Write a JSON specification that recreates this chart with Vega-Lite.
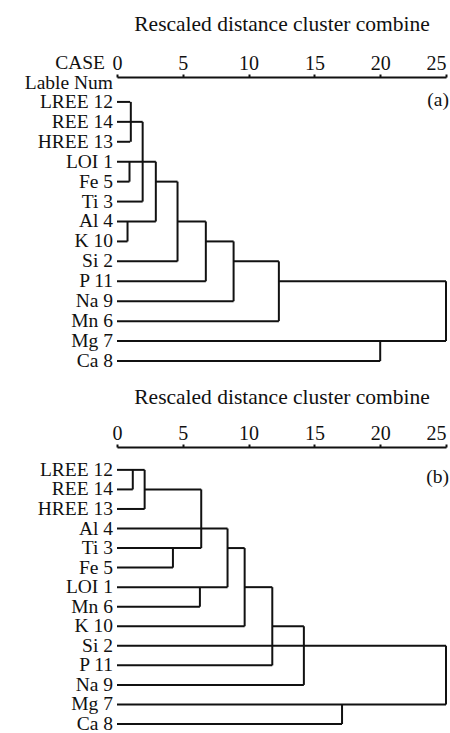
{
  "$schema": "https://vega.github.io/schema/vega-lite/v6.json",
  "background": "white",
  "padding": {"left": 24, "top": 13, "right": 0, "bottom": 0},
  "spacing": 15,
  "config": {
    "view": {"stroke": null},
    "font": "Liberation Serif",
    "text": {"font": "Liberation Serif", "fontSize": 19.5, "color": "#111"},
    "axis": {
      "grid": false,
      "domainColor": "#111",
      "domainWidth": 2,
      "tickColor": "#111",
      "tickWidth": 2,
      "tickSize": 3,
      "labelFont": "Liberation Serif",
      "labelFontSize": 20,
      "labelColor": "#111",
      "labelPadding": 1,
      "labelFlush": false,
      "labelAlign": {"condition": {"test": "datum.value === 25", "value": "right"}, "value": "center"},
      "titleFont": "Liberation Serif",
      "titleFontSize": 21.5,
      "titleFontWeight": "normal",
      "titleColor": "#111"
    }
  },
  "datasets": {
    "seg": [
      {"panel": "a", "x0": 0, "x1": 1.0, "r0": 0, "r1": 0},
      {"panel": "a", "x0": 0, "x1": 1.95, "r0": 1, "r1": 1},
      {"panel": "a", "x0": 0, "x1": 1.0, "r0": 2, "r1": 2},
      {"panel": "a", "x0": 0, "x1": 2.95, "r0": 3, "r1": 3},
      {"panel": "a", "x0": 0, "x1": 0.95, "r0": 4, "r1": 4},
      {"panel": "a", "x0": 2.95, "x1": 4.6, "r0": 4, "r1": 4},
      {"panel": "a", "x0": 0, "x1": 1.95, "r0": 5, "r1": 5},
      {"panel": "a", "x0": 0, "x1": 2.95, "r0": 6, "r1": 6},
      {"panel": "a", "x0": 0, "x1": 0.8, "r0": 7, "r1": 7},
      {"panel": "a", "x0": 0, "x1": 4.6, "r0": 8, "r1": 8},
      {"panel": "a", "x0": 4.6, "x1": 6.75, "r0": 6, "r1": 6},
      {"panel": "a", "x0": 0, "x1": 6.75, "r0": 9, "r1": 9},
      {"panel": "a", "x0": 6.75, "x1": 8.86, "r0": 7, "r1": 7},
      {"panel": "a", "x0": 0, "x1": 8.86, "r0": 10, "r1": 10},
      {"panel": "a", "x0": 8.86, "x1": 12.3, "r0": 8, "r1": 8},
      {"panel": "a", "x0": 0, "x1": 12.3, "r0": 11, "r1": 11},
      {"panel": "a", "x0": 12.3, "x1": 25, "r0": 9, "r1": 9},
      {"panel": "a", "x0": 0, "x1": 25, "r0": 12, "r1": 12},
      {"panel": "a", "x0": 0, "x1": 20, "r0": 13, "r1": 13},
      {"panel": "a", "x0": 1.05, "x1": 1.05, "r0": 0, "r1": 2},
      {"panel": "a", "x0": 0.95, "x1": 0.95, "r0": 3, "r1": 4},
      {"panel": "a", "x0": 0.8, "x1": 0.8, "r0": 6, "r1": 7},
      {"panel": "a", "x0": 1.95, "x1": 1.95, "r0": 1, "r1": 5},
      {"panel": "a", "x0": 2.95, "x1": 2.95, "r0": 3, "r1": 6},
      {"panel": "a", "x0": 4.6, "x1": 4.6, "r0": 4, "r1": 8},
      {"panel": "a", "x0": 6.75, "x1": 6.75, "r0": 6, "r1": 9},
      {"panel": "a", "x0": 8.86, "x1": 8.86, "r0": 7, "r1": 10},
      {"panel": "a", "x0": 12.3, "x1": 12.3, "r0": 8, "r1": 11},
      {"panel": "a", "x0": 25, "x1": 25, "r0": 9, "r1": 12},
      {"panel": "a", "x0": 20, "x1": 20, "r0": 12, "r1": 13},
      {"panel": "b", "x0": 0, "x1": 2.1, "r0": 0, "r1": 0},
      {"panel": "b", "x0": 0, "x1": 1.2, "r0": 1, "r1": 1},
      {"panel": "b", "x0": 0, "x1": 2.1, "r0": 2, "r1": 2},
      {"panel": "b", "x0": 2.1, "x1": 6.4, "r0": 1, "r1": 1},
      {"panel": "b", "x0": 0, "x1": 8.4, "r0": 3, "r1": 3},
      {"panel": "b", "x0": 0, "x1": 6.4, "r0": 4, "r1": 4},
      {"panel": "b", "x0": 0, "x1": 4.25, "r0": 5, "r1": 5},
      {"panel": "b", "x0": 8.4, "x1": 9.7, "r0": 4, "r1": 4},
      {"panel": "b", "x0": 0, "x1": 8.4, "r0": 6, "r1": 6},
      {"panel": "b", "x0": 0, "x1": 6.3, "r0": 7, "r1": 7},
      {"panel": "b", "x0": 0, "x1": 9.7, "r0": 8, "r1": 8},
      {"panel": "b", "x0": 9.7, "x1": 11.8, "r0": 6, "r1": 6},
      {"panel": "b", "x0": 0, "x1": 25, "r0": 9, "r1": 9},
      {"panel": "b", "x0": 0, "x1": 11.8, "r0": 10, "r1": 10},
      {"panel": "b", "x0": 11.8, "x1": 14.2, "r0": 8, "r1": 8},
      {"panel": "b", "x0": 0, "x1": 14.2, "r0": 11, "r1": 11},
      {"panel": "b", "x0": 0, "x1": 25, "r0": 12, "r1": 12},
      {"panel": "b", "x0": 0, "x1": 17.1, "r0": 13, "r1": 13},
      {"panel": "b", "x0": 1.2, "x1": 1.2, "r0": 0, "r1": 1},
      {"panel": "b", "x0": 2.1, "x1": 2.1, "r0": 0, "r1": 2},
      {"panel": "b", "x0": 6.4, "x1": 6.4, "r0": 1, "r1": 4},
      {"panel": "b", "x0": 4.25, "x1": 4.25, "r0": 4, "r1": 5},
      {"panel": "b", "x0": 6.3, "x1": 6.3, "r0": 6, "r1": 7},
      {"panel": "b", "x0": 8.4, "x1": 8.4, "r0": 3, "r1": 6},
      {"panel": "b", "x0": 9.7, "x1": 9.7, "r0": 4, "r1": 8},
      {"panel": "b", "x0": 11.8, "x1": 11.8, "r0": 6, "r1": 10},
      {"panel": "b", "x0": 14.2, "x1": 14.2, "r0": 8, "r1": 11},
      {"panel": "b", "x0": 17.1, "x1": 17.1, "r0": 12, "r1": 13},
      {"panel": "b", "x0": 25, "x1": 25, "r0": 9, "r1": 12}
    ],
    "leaf": [
      {"panel": "a", "row": 0, "label": "LREE 12"},
      {"panel": "a", "row": 1, "label": "REE 14"},
      {"panel": "a", "row": 2, "label": "HREE 13"},
      {"panel": "a", "row": 3, "label": "LOI 1"},
      {"panel": "a", "row": 4, "label": "Fe 5"},
      {"panel": "a", "row": 5, "label": "Ti 3"},
      {"panel": "a", "row": 6, "label": "Al 4"},
      {"panel": "a", "row": 7, "label": "K 10"},
      {"panel": "a", "row": 8, "label": "Si 2"},
      {"panel": "a", "row": 9, "label": "P 11"},
      {"panel": "a", "row": 10, "label": "Na 9"},
      {"panel": "a", "row": 11, "label": "Mn 6"},
      {"panel": "a", "row": 12, "label": "Mg 7"},
      {"panel": "a", "row": 13, "label": "Ca 8"},
      {"panel": "b", "row": 0, "label": "LREE 12"},
      {"panel": "b", "row": 1, "label": "REE 14"},
      {"panel": "b", "row": 2, "label": "HREE 13"},
      {"panel": "b", "row": 3, "label": "Al 4"},
      {"panel": "b", "row": 4, "label": "Ti 3"},
      {"panel": "b", "row": 5, "label": "Fe 5"},
      {"panel": "b", "row": 6, "label": "LOI 1"},
      {"panel": "b", "row": 7, "label": "Mn 6"},
      {"panel": "b", "row": 8, "label": "K 10"},
      {"panel": "b", "row": 9, "label": "Si 2"},
      {"panel": "b", "row": 10, "label": "P 11"},
      {"panel": "b", "row": 11, "label": "Na 9"},
      {"panel": "b", "row": 12, "label": "Mg 7"},
      {"panel": "b", "row": 13, "label": "Ca 8"}
    ]
  },
  "vconcat": [
    {
      "width": 329,
      "height": 284,
      "layer": [
        {
          "data": {"name": "seg"},
          "transform": [{"filter": "datum.panel === 'a'"}],
          "mark": {"type": "rule", "strokeWidth": 2, "color": "#111"},
          "encoding": {
            "x": {"field": "x0", "type": "quantitative",
              "scale": {"domain": [0, 25], "nice": false, "zero": false},
              "axis": {"orient": "top", "title": "Rescaled distance cluster combine", "values": [0, 5, 10, 15, 20, 25], "titlePadding": 18}},
            "x2": {"field": "x1"},
            "y": {"field": "r0", "type": "quantitative",
              "scale": {"domain": [-1.25, 13], "reverse": true, "nice": false, "zero": false},
              "axis": null},
            "y2": {"field": "r1"}
          }
        },
        {
          "data": {"name": "leaf"},
          "transform": [{"filter": "datum.panel === 'a'"}],
          "mark": {"type": "text", "align": "right", "baseline": "middle", "dx": -4},
          "encoding": {
            "x": {"datum": 0},
            "y": {"field": "row", "type": "quantitative"},
            "text": {"field": "label"}
          }
        },
        {
          "data": {"values": [{}]},
          "mark": {"type": "text", "align": "right", "baseline": "middle", "dx": -12},
          "encoding": {"x": {"datum": 0}, "y": {"datum": -1.96}, "text": {"value": "CASE"}}
        },
        {
          "data": {"values": [{}]},
          "mark": {"type": "text", "align": "right", "baseline": "middle", "dx": -4},
          "encoding": {"x": {"datum": 0}, "y": {"datum": -0.96}, "text": {"value": "Lable Num"}}
        },
        {
          "data": {"values": [{}]},
          "mark": {"type": "text", "align": "right", "baseline": "middle", "dx": 3},
          "encoding": {"x": {"datum": 25}, "y": {"datum": -0.1}, "text": {"value": "(a)"}}
        }
      ]
    },
    {
      "width": 329,
      "height": 277,
      "layer": [
        {
          "data": {"name": "seg"},
          "transform": [{"filter": "datum.panel === 'b'"}],
          "mark": {"type": "rule", "strokeWidth": 2, "color": "#111"},
          "encoding": {
            "x": {"field": "x0", "type": "quantitative",
              "scale": {"domain": [0, 25], "nice": false, "zero": false},
              "axis": {"orient": "top", "title": "Rescaled distance cluster combine", "values": [0, 5, 10, 15, 20, 25], "titlePadding": 15}},
            "x2": {"field": "x1"},
            "y": {"field": "r0", "type": "quantitative",
              "scale": {"domain": [-1.17, 13], "reverse": true, "nice": false, "zero": false},
              "axis": null},
            "y2": {"field": "r1"}
          }
        },
        {
          "data": {"name": "leaf"},
          "transform": [{"filter": "datum.panel === 'b'"}],
          "mark": {"type": "text", "align": "right", "baseline": "middle", "dx": -4},
          "encoding": {
            "x": {"datum": 0},
            "y": {"field": "row", "type": "quantitative"},
            "text": {"field": "label"}
          }
        },
        {
          "data": {"values": [{}]},
          "mark": {"type": "text", "align": "right", "baseline": "middle", "dx": 3},
          "encoding": {"x": {"datum": 25}, "y": {"datum": 0.36}, "text": {"value": "(b)"}}
        }
      ]
    }
  ]
}
